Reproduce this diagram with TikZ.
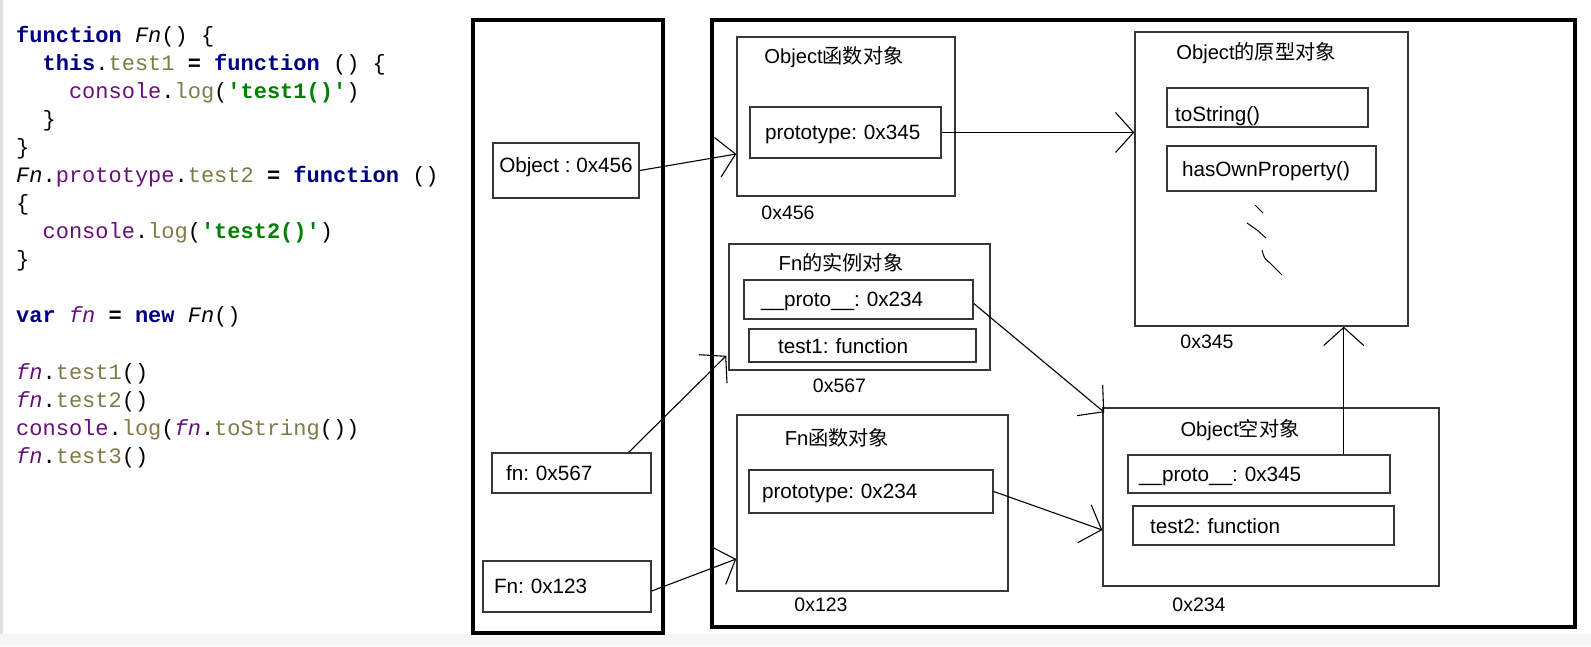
\documentclass[tikz,border=0pt]{standalone}
\usepackage{fontspec}
\setmainfont{Liberation Sans}
\newfontfamily\cjk{Noto Sans CJK SC}
\newfontfamily\codefont{Liberation Mono}
\usetikzlibrary{arrows.meta,positioning}

\definecolor{kwblue}{RGB}{0,0,128}
\definecolor{memolive}{RGB}{128,122,72}
\definecolor{objpurple}{RGB}{102,14,122}
\definecolor{strgreen}{RGB}{0,128,0}
\definecolor{linegray}{RGB}{55,55,55}

\newcommand{\kw}[1]{\textcolor{kwblue}{\bfseries #1}}
\newcommand{\mem}[1]{\textcolor{memolive}{#1}}
\newcommand{\obj}[1]{\textcolor{objpurple}{#1}}
\newcommand{\str}[1]{\textcolor{strgreen}{\bfseries #1}}
\newcommand{\fnit}[1]{\textit{#1}}
\newcommand{\vr}[1]{\textcolor{objpurple}{\itshape #1}}
\newcommand{\zh}[1]{{\cjk #1}}
\newcommand{\sq}{\textquotesingle}

\begin{document}
\frenchspacing
\begin{tikzpicture}[x=1pt,y=-1pt,>={Straight Barb[length=18pt,width=40pt]},
  code/.style={anchor=north west,inner sep=0pt,align=left,
    font=\codefont\fontsize{22}{28.07}\selectfont},
  area/.style={draw,line width=3.5pt,inner sep=0pt},
  heapobj/.style={draw=linegray,line width=1.5pt,inner sep=0pt},
  cell/.style={draw=linegray,line width=1.5pt,align=left,inner ysep=0pt,
    text depth=0pt,font=\fontsize{20.7}{23}\selectfont},
  title/.style={inner sep=0pt,font=\fontsize{20.2}{23}\selectfont},
  addr/.style={inner sep=0pt,font=\fontsize{19.5}{22}\selectfont},
  every edge/.style={draw,line width=1.1pt}]
  \useasboundingbox (0,0) rectangle (1591,646);
  \fill[gray!8] (0,634) rectangle (1591,646);
  \fill[gray!25] (0,0) rectangle (3,634);

  % source code
  \node[code] (src) at (16,22) {\rule{0pt}{20pt}\kw{function} \fnit{Fn}() \{\\
\phantom{xx}\kw{this}.\mem{test1} \textbf{=} \kw{function} () \{\\
\phantom{xxxx}\obj{console}.\mem{log}(\str{\sq test1()\sq})\\
\phantom{xx}\}\\
\}\\
\fnit{Fn}.\obj{prototype}.\mem{test2} \textbf{=} \kw{function} ()\\
\{\\
\phantom{xx}\obj{console}.\mem{log}(\str{\sq test2()\sq})\\
\}\\
\mbox{}\\
\kw{var} \vr{fn} \textbf{=} \kw{new} \fnit{Fn}()\\
\mbox{}\\
\vr{fn}.\mem{test1}()\\
\vr{fn}.\mem{test2}()\\
\obj{console}.\mem{log}(\vr{fn}.\mem{toString}())\\
\vr{fn}.\mem{test3}()};

  % stack and heap
  \node[area,minimum width=190,minimum height=613] (stack) at (568,326.5) {};
  \node[area,minimum width=863,minimum height=607] (heap) at (1143.5,323.5) {};

  \node[cell,minimum width=146,minimum height=55,inner xsep=0pt,text depth=12pt] (objv) at (566,170.5) {Object : 0x456};
  \node[cell,minimum height=40,text width=131,inner xsep=14] (fnv) at (571.5,473) {fn: 0x567};
  \node[cell,minimum height=51,text width=146,inner xsep=11] (Fnv) at (567,586.5) {Fn: 0x123};

  % Object function
  \node[heapobj,minimum width=218,minimum height=159] (objfn) at (846,116.5) {};
  \node[title] (tobjfn) at (834,57) {Object\zh{函数对象}};
  \node[cell,minimum height=51,text width=161,inner xsep=15] (proto345) at (845.5,132.5) {prototype: 0x345};
  \node[addr] (a456) at (788,213) {0x456};

  % instance of Fn
  \node[heapobj,minimum width=261,minimum height=126] (inst) at (859.5,307) {};
  \node[title] (tinst) at (841,263) {Fn\zh{的实例对象}};
  \node[cell,minimum height=39,text width=195,inner xsep=17] (proto234a) at (858.5,299.5) {\_\_proto\_\_: 0x234};
  \node[cell,minimum height=33,text width=169,inner xsep=29] (test1) at (862.5,345.5) {test1: function};
  \node[addr] (a567) [below=8pt of inst.south, xshift=-20pt] {0x567};

  % Fn function
  \node[heapobj,minimum width=271,minimum height=176] (fnobj) at (872.5,503) {};
  \node[title] (tfnobj) at (837,438) {Fn\zh{函数对象}};
  \node[cell,minimum height=43,text width=218,inner xsep=13] (proto234b) at (871,491.5) {prototype: 0x234};
  \node[addr] (a123) at (821,605) {0x123};

  % Object prototype
  \node[heapobj,minimum width=273,minimum height=294] (objproto) at (1271.5,179) {};
  \node[title] (tobjproto) at (1256,53) {Object\zh{的原型对象}};
  \node[cell,minimum height=39,text width=185,inner xsep=8] (tostr) at (1267.5,107.5) {\raisebox{-13.5pt}[0pt][0pt]{toString()}};
  \node[cell,minimum height=45,text width=179,inner xsep=15] (hasown) at (1271.5,168.5) {hasOwnProperty()};
  \node[addr] (a345) at (1207,342) {0x345};
  \draw[line width=1pt] (1255,205) -- (1263,213);
  \draw[line width=1pt] (1247,223) .. controls (1252,226) .. (1257,230) -- (1266,238);
  \draw[line width=1pt] (1262,250) .. controls (1264,258) .. (1270,263) -- (1282,275);

  % empty Object
  \node[heapobj,minimum width=336,minimum height=178] (emptyobj) at (1271,497) {};
  \node[title] (temptyobj) at (1240,430) {Object\zh{空对象}};
  \node[cell,minimum height=38,text width=240,inner xsep=11] (proto345b) at (1259,474) {\_\_proto\_\_: 0x345};
  \node[cell,minimum height=39,text width=227,inner xsep=17] (test2) at (1263.5,525.5) {test2: function};
  \node[addr] (a234) at (1199,605) {0x234};

  \coordinate (up) at ([xshift=-47pt]proto345b.north east);

\path[->] (objv.east) edge ([yshift=-37.5pt]objfn.west)
	  (proto345.east) edge (proto345.east -| objproto.west)
	  ([xshift=-23pt]fnv.north east) edge ([shift={(-2pt,15pt)}]inst.south west)
	  ([yshift=-4.5pt]Fnv.east) edge ([yshift=-56pt]fnobj.west)
	  ([yshift=-4pt]proto234a.east) edge ([shift={(2pt,-5pt)}]emptyobj.north west)
	  (proto234b.east) edge ([yshift=-33pt]emptyobj.west)
	  (up) edge (up |- objproto.south);
\end{tikzpicture}
\end{document}
